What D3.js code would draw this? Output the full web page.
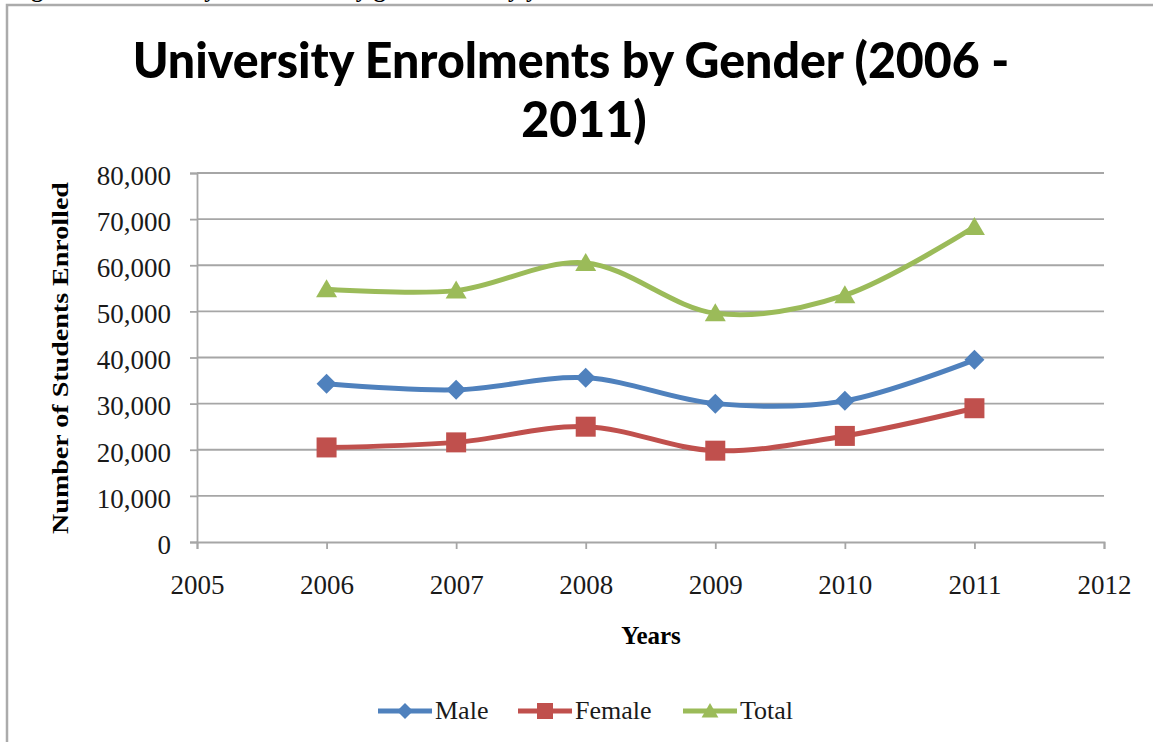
<!DOCTYPE html>
<html>
<head>
<meta charset="utf-8">
<script src="https://cdn.jsdelivr.net/npm/d3@7/dist/d3.min.js"></script>
<style>
  html, body { margin: 0; padding: 0; background: #fff; }
  svg { display: block; }
</style>
</head>
<body>
<svg id="chart" width="1153" height="742"></svg>
<script>
// Enrolment data, 2006–2011
const years = [2006, 2007, 2008, 2009, 2010, 2011];
const male = [34300, 33000, 35600, 30000, 30600, 39500];
const female = [20500, 21600, 25000, 19800, 23000, 29000];
const total = [54800, 54500, 60500, 49600, 53500, 68300];

const seriesNames = ["Male", "Female", "Total"];
const xTicks = [2005, 2006, 2007, 2008, 2009, 2010, 2011, 2012];
const yTicks = [0, 10000, 20000, 30000, 40000, 50000, 60000, 70000, 80000];

const titleLines = ["University Enrolments by Gender (2006 -", "2011)"];
const yLabel = "Number of Students Enrolled";
const xLabel = "Years";
const caption = "Figure 1: University enrolments by gender and by year";

const colors = { Male: "#4F81BD", Female: "#C0504D", Total: "#9BBB59" };
const seriesData = { Male: male, Female: female, Total: total };

const svg = d3.select("#chart");
const W = 1153, H = 742;

// caption above the chart frame (runs off the top edge)
svg.append("text")
  .attr("x", 10).attr("y", -3)
  .attr("font-family", "Liberation Serif").attr("font-weight", "bold")
  .attr("font-size", 24).attr("fill", "#000")
  .text(caption);

// chart frame
svg.append("path")
  .attr("d", `M7,${H + 5} L7,5 L${W + 5},5`)
  .attr("fill", "none").attr("stroke", "#ababab").attr("stroke-width", 2.5);

const x = d3.scaleLinear().domain([2005, 2012]).range([197, 1104]);
const y = d3.scaleLinear().domain([0, 80000]).range([542, 173]);

// horizontal gridlines
svg.append("g").selectAll("line")
  .data(yTicks.filter(d => d > 0))
  .join("line")
  .attr("x1", x(2005)).attr("x2", x(2012))
  .attr("y1", d => y(d)).attr("y2", d => y(d))
  .attr("stroke", "#a6a6a6").attr("stroke-width", 1.8);

// y axis
const yAxis = svg.append("g")
  .attr("transform", `translate(${x(2005)},0)`)
  .call(d3.axisLeft(y).tickValues(yTicks).tickFormat(d3.format(",")).tickSize(7).tickPadding(19));
yAxis.select(".domain").attr("stroke", "#a6a6a6").attr("stroke-width", 1.8);
yAxis.selectAll(".tick line").attr("stroke", "#a6a6a6").attr("stroke-width", 1.8);
yAxis.selectAll(".tick text")
  .attr("font-family", "Liberation Serif").attr("font-size", 27)
  .attr("fill", "#1a1a1a").attr("dy", "0.42em");

// x axis
const xAxis = svg.append("g")
  .attr("transform", `translate(0,${y(0)})`)
  .call(d3.axisBottom(x).tickValues(xTicks).tickFormat(d3.format("d")).tickSize(7).tickPadding(26));
xAxis.select(".domain").attr("stroke", "#a6a6a6").attr("stroke-width", 1.8);
xAxis.selectAll(".tick line").attr("stroke", "#a6a6a6").attr("stroke-width", 1.8);
xAxis.selectAll(".tick text")
  .attr("font-family", "Liberation Serif").attr("font-size", 27)
  .attr("fill", "#1a1a1a");

// smoothed series lines
const line = d3.line()
  .x((d, i) => x(years[i]))
  .y(d => y(d))
  .curve(d3.curveCardinal.tension(0));

seriesNames.forEach(name => {
  svg.append("path")
    .datum(seriesData[name])
    .attr("d", line)
    .attr("fill", "none")
    .attr("stroke", colors[name])
    .attr("stroke-width", 5)
    .attr("stroke-linejoin", "round");
});

// marker shapes
function markerPath(name, s) {
  if (name === "Male") {
    const r = 10 * s;
    return `M0,${-r} L${r},0 L0,${r} L${-r},0 Z`;
  }
  if (name === "Female") {
    const h = 10 * s;
    return `M${-h},${-h} L${h},${-h} L${h},${h} L${-h},${h} Z`;
  }
  const w = 10.5 * s, t = 10 * s, b = 8 * s;
  return `M0,${-t} L${w},${b} L${-w},${b} Z`;
}

seriesNames.forEach(name => {
  svg.append("g").selectAll("path")
    .data(seriesData[name])
    .join("path")
    .attr("transform", (d, i) => `translate(${x(years[i])},${y(d)})`)
    .attr("d", markerPath(name, 1))
    .attr("fill", colors[name]);
});

// title, fitted to its line width
const title = svg.append("g");
let titleK = 1;
titleLines.forEach((t, i) => {
  const el = title.append("text")
    .attr("font-family", "Lato").attr("font-weight", "900")
    .attr("font-size", 46).attr("fill", "#000")
    .attr("text-anchor", "middle")
    .text(t);
  const cx = i === 0 ? 571 : 584;
  const cy = i === 0 ? 78 : 137;
  if (i === 0) titleK = 877 / el.node().getComputedTextLength();
  el.attr("transform", `translate(${cx},${cy}) scale(${titleK},1.08)`);
});

// axis titles
const yl = svg.append("text")
  .attr("font-family", "Liberation Serif").attr("font-weight", "bold")
  .attr("font-size", 24).attr("fill", "#000")
  .attr("text-anchor", "middle")
  .text(yLabel);
{
  const len = yl.node().getComputedTextLength();
  const k = 352 / len;
  yl.attr("transform", `translate(68,358) rotate(-90) scale(${k},1)`);
}

svg.append("text")
  .attr("x", 651).attr("y", 644)
  .attr("font-family", "Liberation Serif").attr("font-weight", "bold")
  .attr("font-size", 25).attr("fill", "#000")
  .attr("text-anchor", "middle")
  .text(xLabel);

// legend
const legendItems = [
  { name: "Male", x0: 378 },
  { name: "Female", x0: 518 },
  { name: "Total", x0: 683 }
];
const legY = 711;
const leg = svg.append("g");
legendItems.forEach(it => {
  leg.append("line")
    .attr("x1", it.x0).attr("x2", it.x0 + 54)
    .attr("y1", legY).attr("y2", legY)
    .attr("stroke", colors[it.name]).attr("stroke-width", 5);
  leg.append("path")
    .attr("transform", `translate(${it.x0 + 27},${legY})`)
    .attr("d", markerPath(it.name, 0.8))
    .attr("fill", colors[it.name]);
  leg.append("text")
    .attr("x", it.x0 + 57).attr("y", legY + 8)
    .attr("font-family", "Liberation Serif").attr("font-size", 26)
    .attr("fill", "#1a1a1a")
    .text(it.name);
});
</script>
</body>
</html>
